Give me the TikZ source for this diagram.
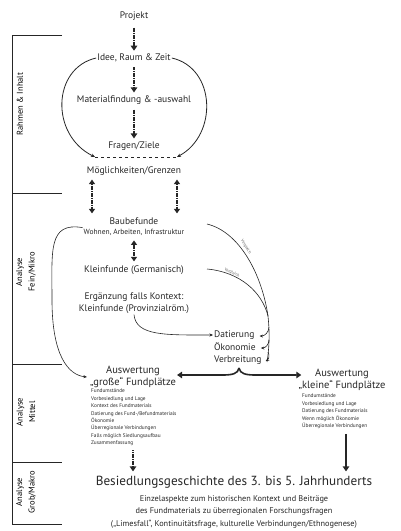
\documentclass[tikz,border=0pt]{standalone}
\usepackage{fontspec}
\setmainfont{PT Sans}
\usetikzlibrary{
  arrows.meta,
  positioning,
  calc
}
\newcommand{\mainsize}{\fontsize{9.5}{12}\selectfont}
\newcommand{\infosize}{\fontsize{7.5}{9}\selectfont}
\newcommand{\listsize}{\fontsize{5.3}{7.4}\selectfont}
\newcommand{\sidesize}{\fontsize{8.5}{12.5}\selectfont}
\newcommand{\bigsize}{\fontsize{13.2}{15}\selectfont}
\newcommand{\subsize}{\fontsize{8.3}{12.5}\selectfont}
\colorlet{ink}{black!85}

\tikzset{
  flow/.style={line width=2.2pt, draw=ink, dash pattern=on 1.3pt off 0.45pt,
    shorten <=4pt, shorten >=2pt, -{Triangle[length=5pt,width=6.5pt]}},
  dbl/.style={flow, {Triangle[length=4.5pt,width=6pt]}-{Triangle[length=4.5pt,width=6pt]}},
  solidflow/.style={line width=2pt, draw=ink, -{Triangle[length=5pt,width=6.5pt]}},
  loop/.style={draw=ink, thick, -{Stealth[length=4pt,width=3.5pt]}},
  thin arrow/.style={draw=ink, semithick, -{Stealth[length=3.5pt,width=3pt]}},
  brace/.style={draw=ink, line width=1.6pt, -{Triangle[length=5pt,width=6.5pt]}},
  rule/.style={draw=ink, semithick},
  side/.style={rotate=90, font=\sidesize, align=center},
  vgl/.style={font=\fontsize{4}{4}\selectfont, text=black!65, inner sep=0pt}
}

\begin{document}
\begin{tikzpicture}[x=1pt,y=-1pt]
\useasboundingbox (0,0) rectangle (400,531);

% Abschnitte
\draw[rule] (62,35) -- (12,35) -- (12,524) -- (62,524);
\foreach \y in {193,364,462}
    \draw[rule] (12,\y) -- (62,\y);
\node[side] (rahmen) at (20,104) {Rahmen \& Inhalt};
\node[side] (fein) at (26,272) {Analyse\\Fein/Mikro};
\node[side] (mittel) at (26,412) {Analyse\\Mittel};
\node[side] (grob) at (26,492) {Analyse\\Grob/Makro};

\begin{scope}[every node/.style={font=\mainsize, text=ink, inner sep=1pt}]
    \node (proj) at (134,16) {Projekt};
    \node (idee) at (134,58) {Idee, Raum \& Zeit};
    \node (mat) at (134,100) {Materialfindung \& -auswahl};
    \node (frag) at (134,146) {Fragen/Ziele};
    \node (moeg) at (134,171) {Möglichkeiten/Grenzen};
    \node (bau) at (134,221) {Baubefunde};
    \node[font=\infosize] (bauinfo) at (134,232) {Wohnen, Arbeiten, Infrastruktur};
    \node (kleing) at (134,270) {Kleinfunde (Germanisch)};
    \node[align=center] (ergz) at (134,303) {Ergänzung falls Kontext:\\Kleinfunde (Provinzialröm.)};
    \node[anchor=west] (dat) at (213,335) {Datierung};
    \node[anchor=west] (oeko) at (213,347) {Ökonomie};
    \node[anchor=west] (verb) at (213,360) {Verbreitung};
\end{scope}

\begin{scope}[every node/.style={font=\fontsize{10.5}{12.5}\selectfont, text=ink, inner sep=1pt, align=center}]
    \node (ausgr) at (133,377) {Auswertung\\„große“ Fundplätze};
    \node (auskl) at (342,380) {Auswertung\\„kleine“ Fundplätze};
\end{scope}

\begin{scope}[every node/.style={font=\listsize, text=ink, inner sep=1pt, align=left, anchor=north west}]
    \node (grlist) at (90,388) {Fundumstände\\Vorbesiedlung und Lage\\Kontext des Fundmaterials\\Datierung des Fund-/Befundmaterials\\Ökonomie\\Überregionale Verbindungen\\Falls möglich Siedlungsaufbau\\Zusammenfassung};
    \node (kllist) at (301,393) {Fundumstände\\Vorbesiedlung und Lage\\Datierung des Fundmaterials\\Wenn möglich Ökonomie\\Überregionale Verbindungen};
\end{scope}

\node[font=\bigsize, text=ink] (besied) at (234,482) {Besiedlungsgeschichte des 3. bis 5. Jahrhunderts};
\node[font=\subsize, text=ink, align=center, below=0pt of besied] (einzel) {Einzelaspekte zum historischen Kontext und Beiträge\\des Fundmaterials zu überregionalen Forschungsfragen\\(„Limesfall“, Kontinuitätsfrage, kulturelle Verbindungen/Ethnogenese)};

% Hauptfluss
\path (proj) edge[flow, shorten <=6pt] (idee);
\path (idee) edge[flow] (mat);
\path (mat) edge[flow] (frag);
\path ([xshift=-42pt]moeg.south) edge[dbl, shorten <=3pt, shorten >=3pt] ([xshift=-42pt]bau.north);
\path ([xshift=43pt]moeg.south) edge[dbl, shorten <=3pt, shorten >=3pt] ([xshift=43pt]bau.north);
\path (bauinfo) edge[dbl, shorten <=4pt, shorten >=3pt] (kleing);

% Schleife Rahmen
\coordinate (dashL) at (95,157);
\coordinate (dashR) at (177,157);
\draw[ink, dashed, thin] (dashL) -- (dashR);
\draw[loop] (idee.west) .. controls (52,68) and (50,135) .. (dashL);
\draw[loop] (idee.east) .. controls (216,68) and (218,135) .. (dashR);

% Vergleich
\coordinate (vg1) at (207,224);
\coordinate (vg2) at (207,269);
\coordinate (brT) at (268,316);
\coordinate (brB) at (267,362);
\draw[ink, semithick] (vg1) .. controls (240,232) and (262,275) .. (brT);
\draw[ink, semithick] (vg2) .. controls (240,272) and (262,292) .. (brT);
\draw[ink, semithick] (brT) .. controls (270,335) and (269,350) .. (brB);
\node[vgl, rotate=-58] (vgl1) at (246,247) {Vergleich};
\node[vgl, rotate=-22] (vgl2) at (232,273) {Vergleich};
\path (269,327) edge[thin arrow, bend left=45] ([xshift=4pt,yshift=-1pt]dat.east);
\path (269,340) edge[thin arrow, bend left=45] ([xshift=4pt,yshift=-1pt]oeko.east);
\path (268,352) edge[thin arrow, bend left=45] ([xshift=3pt,yshift=-1pt]verb.east);

% Provinzialroemisch
\draw[thin arrow] (ergz.south) .. controls (136,336) and (165,335) .. (dat.west);

% links zur Auswertung
\draw[thin arrow] (bauinfo.north west) .. controls (48,222) and (52,250) .. (52,300)
    .. controls (52,355) and (68,375) .. ([xshift=-2pt]ausgr.west);

% Klammer zwischen den Auswertungen
\coordinate (peak) at (239,368);
\coordinate (brL) at (222,375);
\coordinate (brR) at (256,375);
\draw[brace] (peak) .. controls (238,374) and (232,375) .. (brL) -- (brL -| ausgr.east);
\draw[brace] (peak) .. controls (240,374) and (246,375) .. (brR) -- ([xshift=4pt]brR -| auskl.west);

% zur Besiedlungsgeschichte
\path (ausgr |- grlist.south) edge[flow, shorten <=3pt, shorten >=1pt] (ausgr |- besied.north);
\path ([xshift=4pt]auskl |- kllist.south) edge[solidflow, shorten <=4pt, shorten >=1pt] ([xshift=4pt]auskl |- besied.north);
\end{tikzpicture}
\end{document}
